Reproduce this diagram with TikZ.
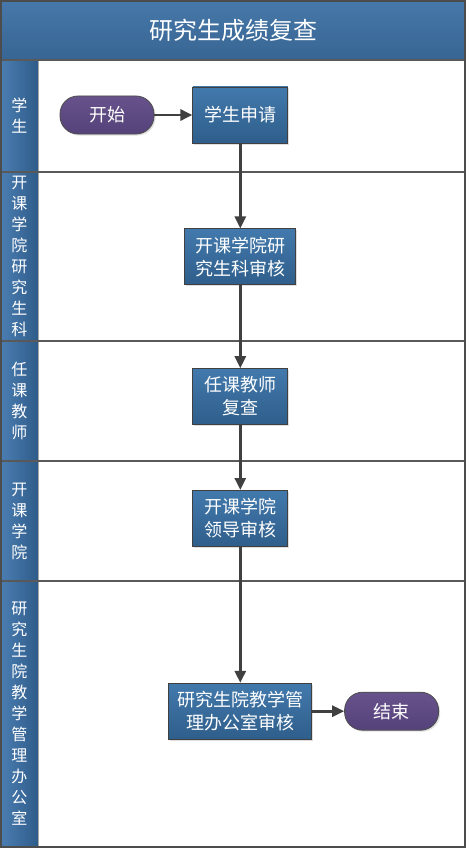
\documentclass[tikz,border=0pt]{standalone}
\usepackage{fontspec}
\setmainfont{Noto Sans CJK SC}
\usetikzlibrary{positioning,arrows.meta,shadows}
\definecolor{headtop}{HTML}{4678A9}
\definecolor{headbot}{HTML}{386593}
\definecolor{tasktop}{HTML}{4279AC}
\definecolor{taskbot}{HTML}{2F5E8B}
\definecolor{termtop}{HTML}{68528C}
\definecolor{termbot}{HTML}{554279}
\definecolor{laneleft}{HTML}{4A7DB1}
\definecolor{laneright}{HTML}{2F5C8A}
\definecolor{flowgray}{HTML}{404040}
\tikzset{
  task/.style={rectangle,draw=black!75,line width=0.8pt,top color=tasktop,bottom color=taskbot,
    text=white,minimum width=95pt,minimum height=56pt,inner sep=1pt,align=center,
    font=\fontsize{18}{23}\selectfont,
    drop shadow={shadow xshift=1.5pt,shadow yshift=-1.5pt,opacity=0.25}},
  terminal/.style={rectangle,rounded corners=18pt,draw=black!70,line width=0.8pt,
    top color=termtop,bottom color=termbot,text=white,minimum width=94pt,minimum height=38pt,
    font=\fontsize{18}{22}\selectfont,
    drop shadow={shadow xshift=1.5pt,shadow yshift=-1.5pt,opacity=0.25}},
  lanelabel/.style={text=white,align=center,inner sep=0pt,font=\fontsize{16}{21}\selectfont},
  laneline/.style={draw=black!65,line width=1.3pt},
  flow/.style={-{Triangle[length=12pt,width=11pt]},line width=2.8pt,draw=flowgray}
}

\begin{document}
\begin{tikzpicture}[x=1pt,y=-1pt]
\useasboundingbox (0,0) rectangle (466,848);
\fill[white] (0,0) rectangle (466,848);

% header and lane label column
\shade[top color=headtop,bottom color=headbot] (1,1) rectangle (465,60);
\shade[left color=laneleft,right color=laneright] (1,60) rectangle (38,847);
\draw[black!35,line width=1.2pt] (38.5,60) -- (38.5,847);
\node[text=white,font=\fontsize{24}{28}\selectfont] (title) at (233,30) {研究生成绩复查};

\draw[laneline] (1,60) -- (465,60);
\foreach \y in {172,341,461,581}
  \draw[laneline] (1,\y) -- (465,\y);
\draw[black!70,line width=2pt] (1,1) rectangle (465,847);

% lane names
\node[lanelabel] (laneStudent) at (19.5,116) {学\\生};
\node[lanelabel] (laneCollegeOffice) at (19.5,256.5) {开\\课\\学\\院\\研\\究\\生\\科};
\node[lanelabel] (laneTeacher) at (19.5,401) {任\\课\\教\\师};
\node[lanelabel] (laneCollege) at (19.5,521) {开\\课\\学\\院};
\node[lanelabel] (laneGradSchool) at (19.5,714) {研\\究\\生\\院\\教\\学\\管\\理\\办\\公\\室};

% flow
\node[terminal] (start) at (107,115) {开始};
\node[task,right=38pt of start] (apply) {学生申请};
\node[task,below=85pt of apply,minimum width=111pt] (officecheck) {开课学院研\\究生科审核};
\node[task,below=83pt of officecheck] (teachercheck) {任课教师\\复查};
\node[task,below=65pt of teachercheck] (leadercheck) {开课学院\\领导审核};
\node[task,below=136pt of leadercheck,minimum width=143pt] (gradcheck) {研究生院教学管\\理办公室审核};
\node[terminal,right=32pt of gradcheck] (finish) {结束};

\draw[flow] (start) -- (apply);
\draw[flow] (apply) -- (officecheck);
\draw[flow] (officecheck) -- (teachercheck);
\draw[flow] (teachercheck) -- (leadercheck);
\draw[flow] (leadercheck) -- (gradcheck);
\draw[flow] (gradcheck) -- (finish);
\end{tikzpicture}
\end{document}
